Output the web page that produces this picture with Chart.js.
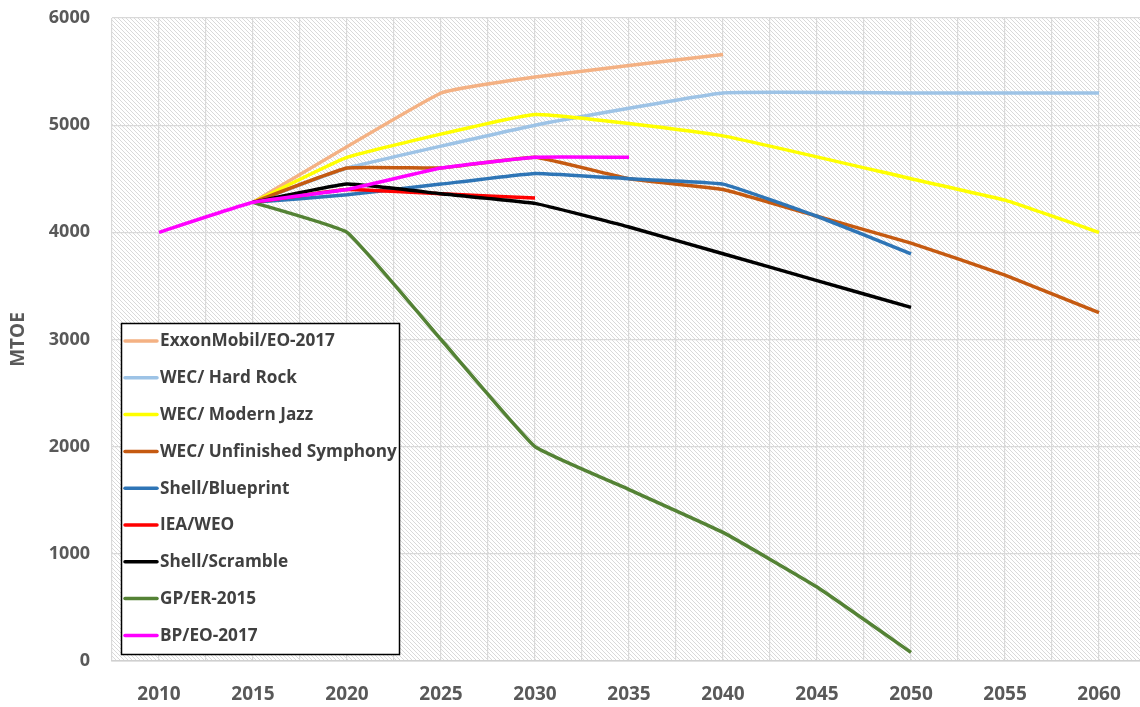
<!DOCTYPE html>
<html>
<head>
<meta charset="utf-8">
<script src="https://cdn.jsdelivr.net/npm/chart.js@4.4.1/dist/chart.umd.min.js"></script>
<style>
html,body{margin:0;padding:0;background:#fff;}
#wrap{width:1140px;height:707px;position:relative;}
</style>
</head>
<body>
<div id="wrap"><canvas id="c" width="1140" height="707"></canvas></div>
<script>
const years = [2010, 2015, 2020, 2025, 2030, 2035, 2040, 2045, 2050, 2055, 2060];
const yTicks = [0, 1000, 2000, 3000, 4000, 5000, 6000];

const seriesNames = [
  'ExxonMobil/EO-2017', 'WEC/ Hard Rock', 'WEC/ Modern Jazz', 'WEC/ Unfinished Symphony',
  'Shell/Blueprint', 'IEA/WEO', 'Shell/Scramble', 'GP/ER-2015', 'BP/EO-2017'
];
const exxon      = [null, 4280, null, 5300, 5450, null, 5660, null, null, null, null];
const hardRock   = [null, 4280, 4600, null, 5000, null, 5300, null, 5300, null, 5300];
const modernJazz = [null, 4280, 4700, null, 5100, null, 4900, null, 4500, 4300, 4000];
const unfinished = [null, 4280, 4600, 4600, 4700, 4500, 4400, 4150, 3900, 3600, 3250];
const blueprint  = [null, 4280, 4350, 4450, 4550, 4500, 4450, 4150, 3800, null, null];
const ieaWeo     = [null, 4280, 4400, 4360, 4320, null, null, null, null, null, null];
const scramble   = [null, 4280, 4450, 4360, 4270, 4050, 3800, 3550, 3300, null, null];
const gpEr       = [null, 4280, 4000, 3000, 2000, 1600, 1200, 690, 80, null, null];
const bpEo       = [4000, 4280, 4400, 4600, 4700, 4700, null, null, null, null, null];

const seriesValues = [exxon, hardRock, modernJazz, unfinished, blueprint, ieaWeo, scramble, gpEr, bpEo];
const seriesColors = ['#F4B183', '#9DC3E6', '#FFFF00', '#C55A11', '#2E75B6', '#FF0000', '#000000', '#548235', '#FF00FF'];

const FONT = "'Open Sans', 'DejaVu Sans', sans-serif";
const n = seriesNames.length;

const datasets = seriesNames.map((name, i) => ({
  label: name,
  data: years.map((yr, j) => ({ x: yr, y: seriesValues[i][j] })),
  borderColor: seriesColors[i],
  backgroundColor: seriesColors[i],
  borderWidth: 3.5,
  pointRadius: 0,
  tension: 0.1,
  spanGaps: true,
  fill: false,
  order: n - 1 - i
}));

// hatch pattern
const pc = document.createElement('canvas');
pc.width = 4; pc.height = 4;
const pctx = pc.getContext('2d');
pctx.fillStyle = '#ffffff';
pctx.fillRect(0, 0, 4, 4);
pctx.fillStyle = '#d9d9d9';
for (let i = 0; i < 4; i++) pctx.fillRect(i, i, 1, 1);

const bgPlugin = {
  id: 'hatchBg',
  beforeDraw(chart) {
    const { ctx, chartArea: a } = chart;
    ctx.save();
    ctx.fillStyle = ctx.createPattern(pc, 'repeat');
    ctx.fillRect(a.left, a.top, a.right - a.left, a.bottom - a.top);
    ctx.restore();
  }
};

const legendPlugin = {
  id: 'boxLegend',
  afterDatasetsDraw(chart) {
    const ctx = chart.ctx;
    const bx = 121.5, by = 323.5, bw = 278, bh = 331;
    ctx.save();
    ctx.fillStyle = '#ffffff';
    ctx.fillRect(bx, by, bw, bh);
    ctx.strokeStyle = '#000000';
    ctx.lineWidth = 1.5;
    ctx.strokeRect(bx, by, bw, bh);
    ctx.font = "bold 17.2px " + FONT;
    ctx.textBaseline = 'middle';
    ctx.textAlign = 'left';
    chart.data.datasets.forEach((ds, i) => {
      const y = 341 + i * 36.8;
      ctx.strokeStyle = ds.borderColor;
      ctx.lineWidth = 3.5;
      ctx.lineCap = 'round';
      ctx.beginPath();
      ctx.moveTo(125, y);
      ctx.lineTo(157, y);
      ctx.stroke();
      ctx.fillStyle = '#404040';
      ctx.fillText(ds.label, 160, y + 0.5);
    });
    ctx.restore();
  }
};

const xMin = 2007.5, xMax = 2062.18;

new Chart(document.getElementById('c'), {
  type: 'line',
  data: { datasets },
  options: {
    responsive: false,
    animation: false,
    layout: { padding: { top: 18, right: 0, left: 0, bottom: 0 } },
    plugins: { legend: { display: false }, tooltip: { enabled: false } },
    scales: {
      x: {
        type: 'linear',
        min: xMin,
        max: xMax,
        afterBuildTicks(scale) {
          const t = [];
          years.forEach(yr => { t.push({ value: yr - 2.5 }); t.push({ value: yr }); });
          scale.ticks = t;
        },
        afterFit(scale) {
          scale.height = 46;
          scale.paddingLeft = 0; scale.paddingRight = 0;
        },
        ticks: {
          autoSkip: false,
          maxRotation: 0,
          padding: 22,
          color: '#595959',
          font: { family: FONT, size: 19, weight: 'bold' },
          callback: (v) => (years.includes(v) ? String(v) : '')
        },
        grid: { color: '#d9d9d9', lineWidth: 1.2, drawTicks: false },
        border: { color: '#d0d0d0', width: 1.5 }
      },
      y: {
        min: 0,
        max: 6000,
        afterBuildTicks(scale) { scale.ticks = yTicks.map(v => ({ value: v })); },
        afterFit(scale) {
          scale.width = 112;
          scale.paddingTop = 0; scale.paddingBottom = 0;
        },
        title: {
          display: true,
          text: 'MTOE',
          color: '#595959',
          font: { family: FONT, size: 19, weight: 'bold' },
          padding: { top: 7, bottom: 0 }
        },
        ticks: {
          padding: 22,
          color: '#595959',
          font: { family: FONT, size: 18, weight: 'bold' },
          callback: (v) => String(v)
        },
        grid: { color: '#d9d9d9', lineWidth: 1.2, drawTicks: false },
        border: { display: false }
      }
    }
  },
  plugins: [bgPlugin, legendPlugin]
});
</script>
</body>
</html>
